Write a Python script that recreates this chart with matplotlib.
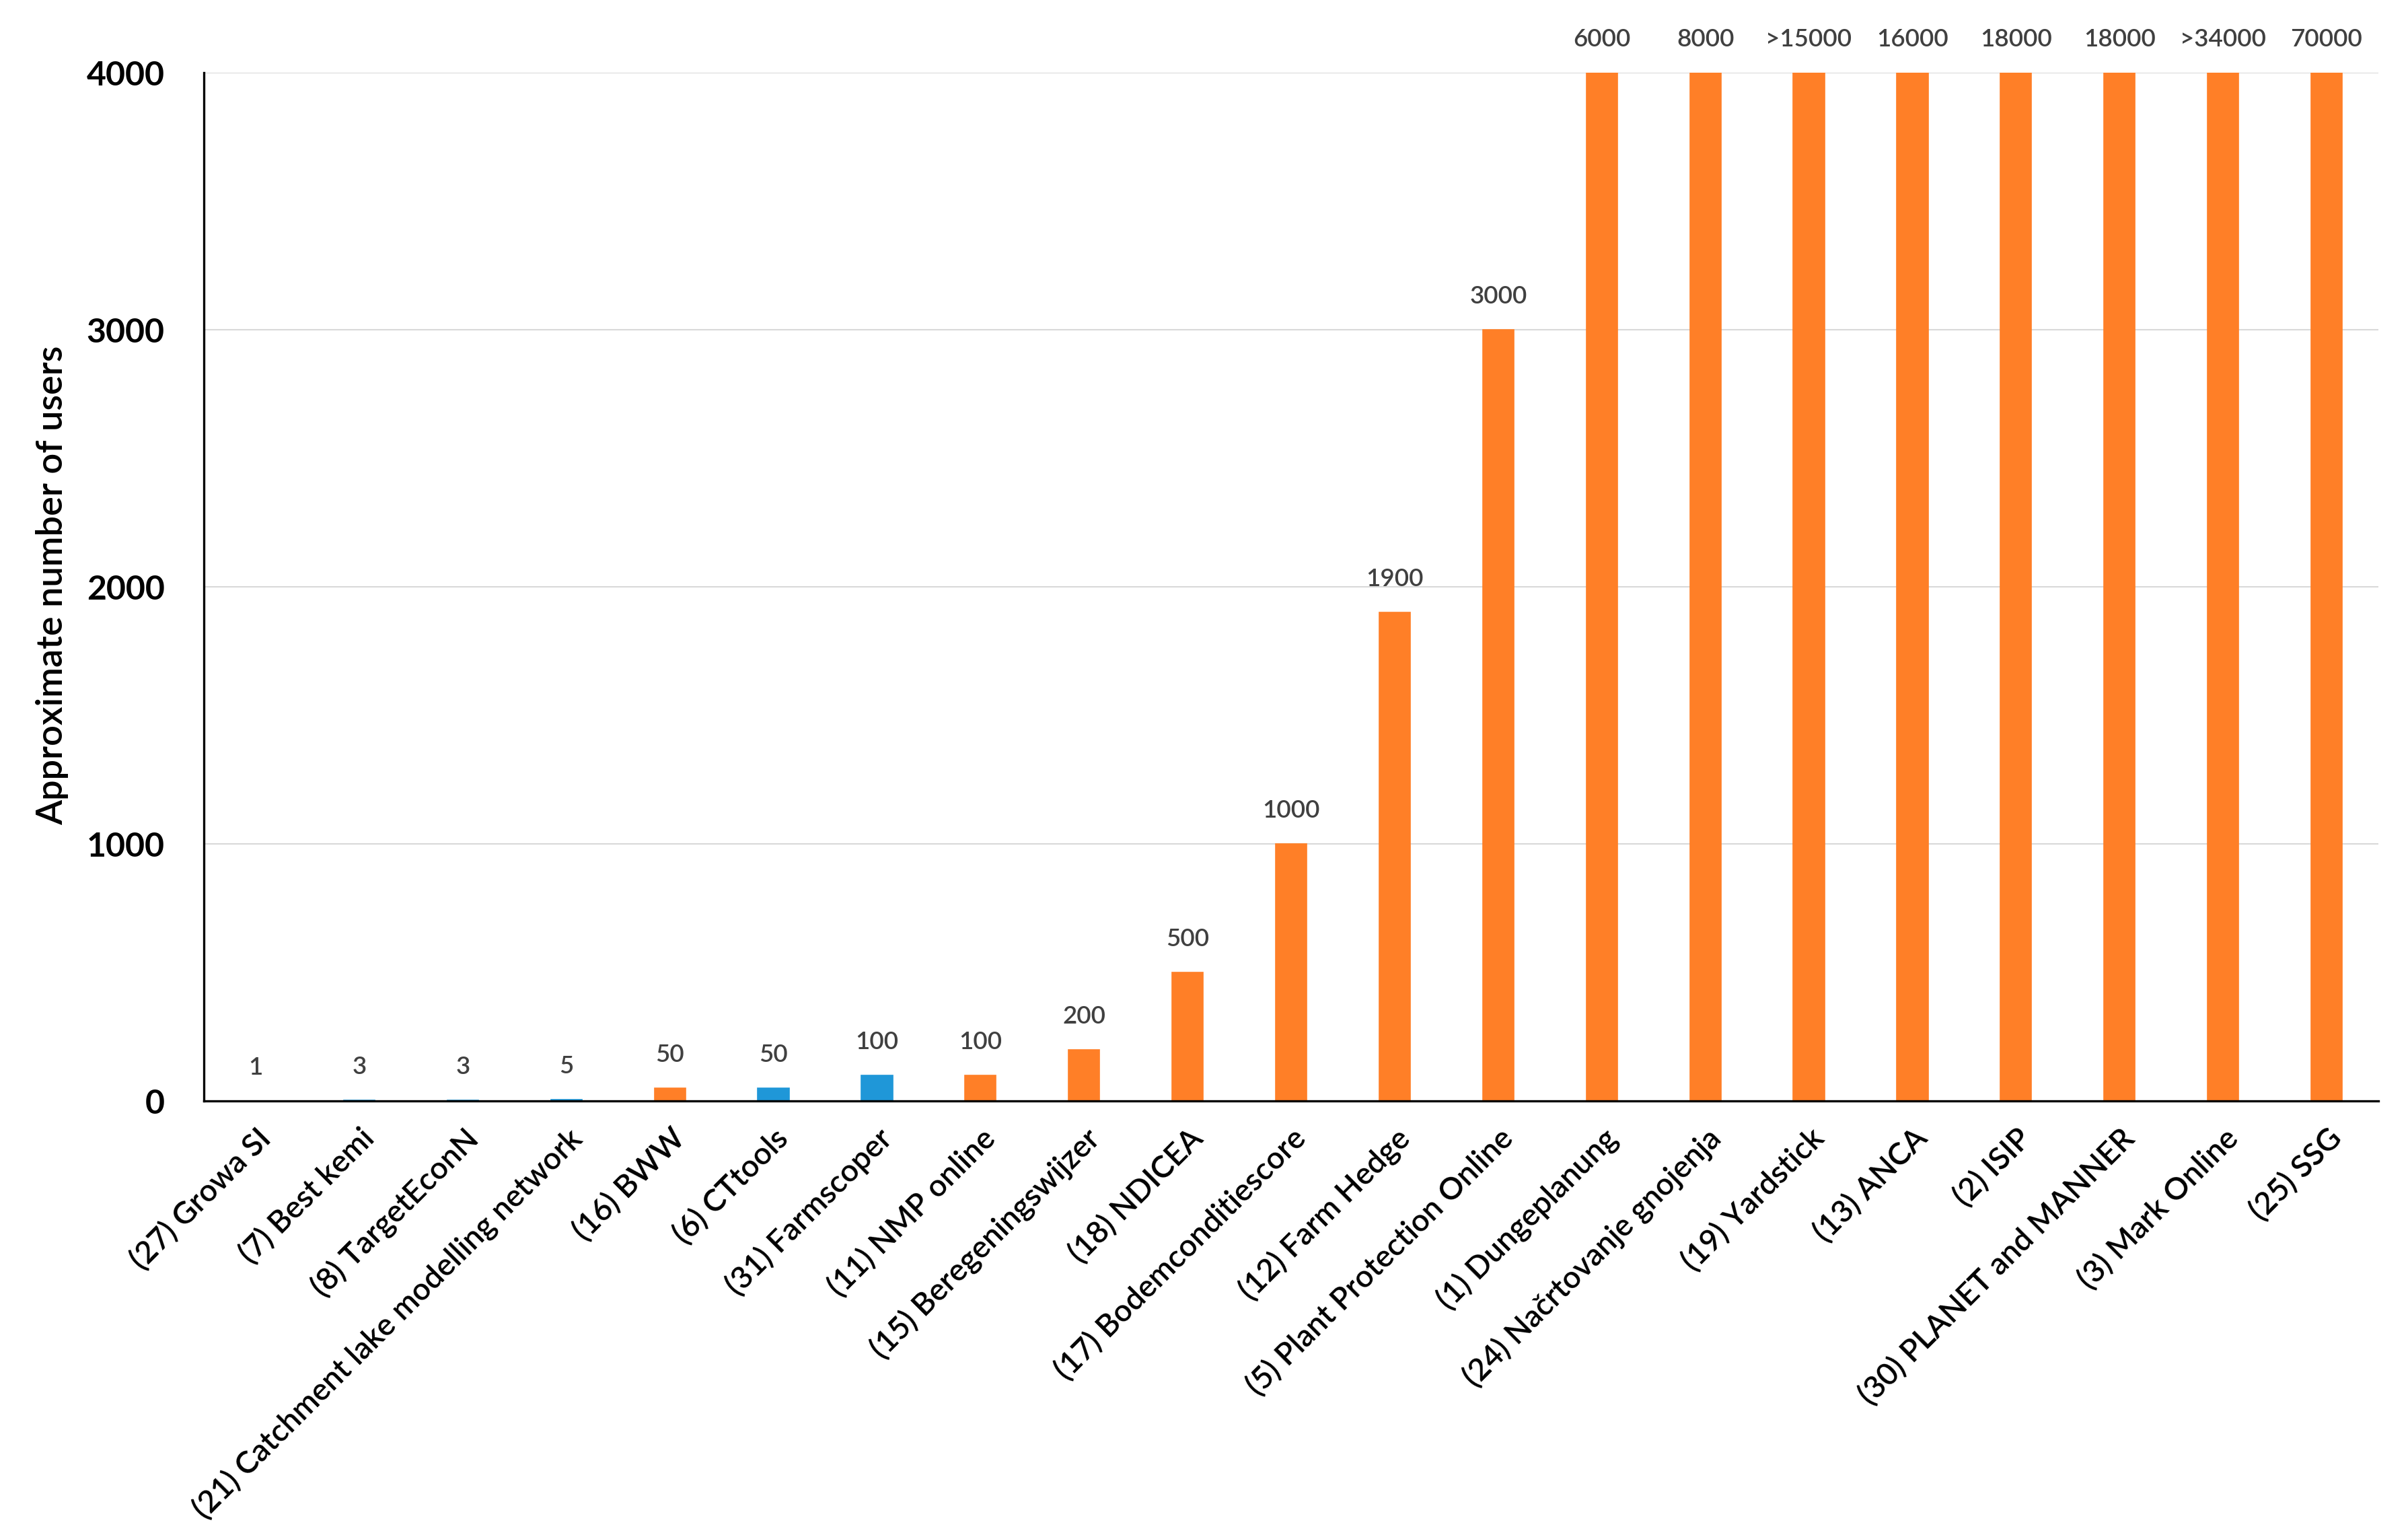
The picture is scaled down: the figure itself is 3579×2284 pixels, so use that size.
import numpy as np
import matplotlib
matplotlib.use("Agg")
import matplotlib.pyplot as plt
import matplotlib.transforms as mtransforms

# data
tools = ["(27) Growa SI", "(7) Best kemi", "(8) TargetEconN",
         "(21) Catchment lake modelling network", "(16) BWW", "(6) CTtools",
         "(31) Farmscoper", "(11) NMP online", "(15) Beregeningswijzer",
         "(18) NDICEA", "(17) Bodemconditiescore", "(12) Farm Hedge",
         "(5) Plant Protection Online", "(1) Dungeplanung",
         "(24) Načrtovanje gnojenja", "(19) Yardstick", "(13) ANCA",
         "(2) ISIP", "(30) PLANET and MANNER", "(3) Mark Online", "(25) SSG"]
users = [1, 3, 3, 5, 50, 50, 100, 100, 200, 500, 1000, 1900, 3000,
         6000, 8000, 15000, 16000, 18000, 18000, 34000, 70000]
value_labels = ["1", "3", "3", "5", "50", "50", "100", "100", "200", "500",
                "1000", "1900", "3000", "6000", "8000", ">15000", "16000",
                "18000", "18000", ">34000", "70000"]
group = ["b", "b", "b", "b", "o", "b", "b", "o", "o", "o", "o", "o", "o",
         "o", "o", "o", "o", "o", "o", "o", "o"]
yticks = [0, 1000, 2000, 3000, 4000]

blue = "#1F97D8"
orange = "#FF7F27"
cols = [blue if g == "b" else orange for g in group]
ymax = 4000

plt.rcParams['font.family'] = ['Lato', 'DejaVu Sans']

fig = plt.figure(figsize=(35.79, 22.84), dpi=100)
ax = fig.add_axes([0.0847, 0.2837, 0.9877 - 0.0847, 0.9527 - 0.2837])

x = np.arange(len(tools))
ax.bar(x, users, width=0.30, color=cols, edgecolor=cols, linewidth=1.2,
       zorder=3)

for i, v in enumerate(users):
    ax.annotate(value_labels[i], xy=(i, min(v, ymax)), xytext=(0, 28),
                textcoords="offset points", ha="center", va="baseline",
                fontsize=26.5, fontweight="semibold", color="#404040",
                annotation_clip=False)

ax.set_xlim(-0.5, len(tools) - 0.5)
ax.set_ylim(0, ymax)
ax.set_yticks(yticks)
ax.set_yticklabels([str(t) for t in yticks], fontsize=36, fontweight="bold")
ax.set_xticks(x)
ax.set_xticklabels(tools, rotation=45, ha="right", va="top",
                   rotation_mode="anchor", fontsize=33, fontweight="semibold")
# nudge rotated labels a bit to the left so they end under the bars
shift = mtransforms.ScaledTranslation(-0.12, 0, fig.dpi_scale_trans)
for lab in ax.get_xticklabels():
    lab.set_transform(lab.get_transform() + shift)
ax.tick_params(axis="y", length=0, pad=42)
ax.tick_params(axis="x", length=0, pad=24)

ax.grid(axis="y", color="#D9D9D9", lw=1.5, zorder=0)
for s in ["top", "right"]:
    ax.spines[s].set_visible(False)
for s in ["left", "bottom"]:
    ax.spines[s].set_linewidth(2.4)
    ax.spines[s].set_zorder(4)

fig.text(78 / 3579, 1 - 870 / 2284, "Approximate number of users",
         rotation=90, ha="center", va="center", fontsize=39,
         fontweight="semibold")

fig.savefig("out.png", dpi=100)
